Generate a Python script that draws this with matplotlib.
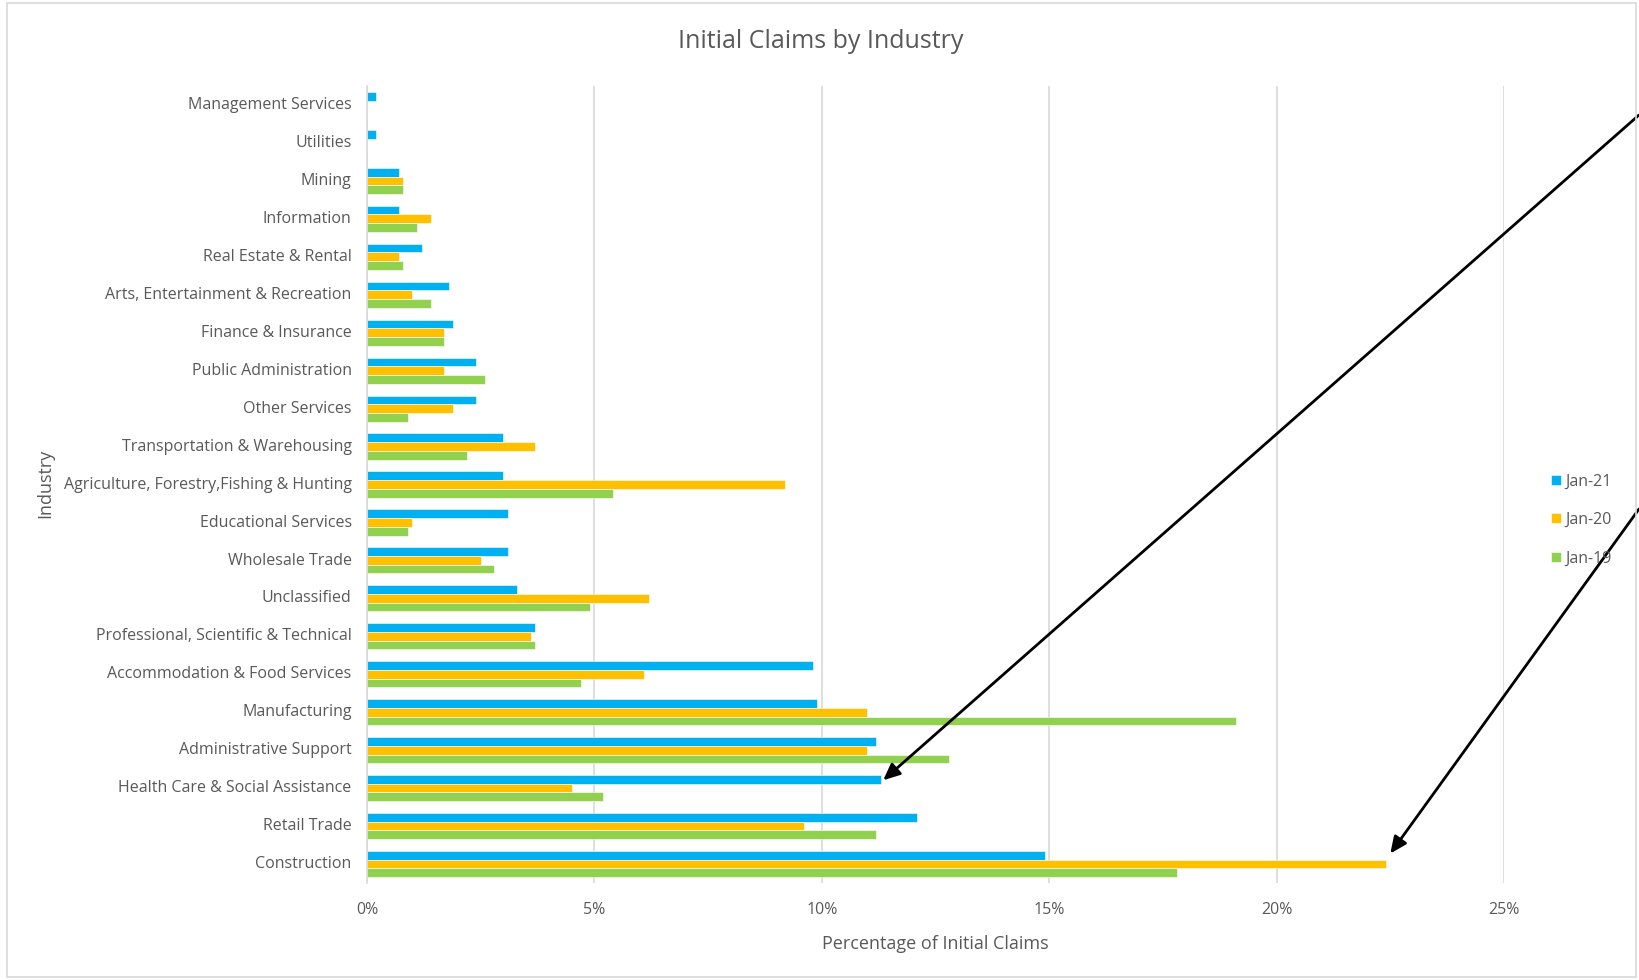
"""
plot.py - initial claims by industry, grouped horizontal bars (Jan-21 / Jan-20 / Jan-19)
"""
import numpy as np
import matplotlib
matplotlib.use("Agg")
import matplotlib.pyplot as plt
from matplotlib.patches import Rectangle

# ----------------------------- data ----------------------------------------
# bottom -> top, as drawn
industries = [
    "Construction", "Retail Trade", "Health Care & Social Assistance",
    "Administrative Support", "Manufacturing", "Accommodation & Food Services",
    "Professional, Scientific & Technical", "Unclassified", "Wholesale Trade",
    "Educational Services", "Agriculture, Forestry,Fishing & Hunting",
    "Transportation & Warehousing", "Other Services", "Public Administration",
    "Finance & Insurance", "Arts, Entertainment & Recreation",
    "Real Estate & Rental", "Information", "Mining", "Utilities",
    "Management Services",
]
jan21 = [14.9, 12.1, 11.3, 11.2, 9.9, 9.8, 3.7, 3.3, 3.1, 3.1, 3.0,
         3.0, 2.4, 2.4, 1.9, 1.8, 1.2, 0.7, 0.7, 0.2, 0.2]
jan20 = [22.4, 9.6, 4.5, 11.0, 11.0, 6.1, 3.6, 6.2, 2.5, 1.0, 9.2,
         3.7, 1.9, 1.7, 1.7, 1.0, 0.7, 1.4, 0.8, 0.0, 0.0]
jan19 = [17.8, 11.2, 5.2, 12.8, 19.1, 4.7, 3.7, 4.9, 2.8, 0.9, 5.4,
         2.2, 0.9, 2.6, 1.7, 1.4, 0.8, 1.1, 0.8, 0.0, 0.0]
series_names = ["Jan-21", "Jan-20", "Jan-19"]
x_ticks = [0, 5, 10, 15, 20, 25]

# ----------------------------- style ---------------------------------------
COLORS = ["#00B0F0", "#FFC000", "#92D050"]
TEXT = "#595959"
GRID = "#D9D9D9"
plt.rcParams["font.family"] = ["Open Sans", "DejaVu Sans"]

W, H = 1639, 980
fig = plt.figure(figsize=(W / 100, H / 100), dpi=100)
ax = fig.add_axes([367 / W, 1 - 883 / H, (1504 - 367) / W, (883 - 86) / H])

y = np.arange(len(industries))
bh = 0.23
for k, (vals, name, col) in enumerate(zip([jan21, jan20, jan19], series_names, COLORS)):
    ax.barh(y + (1 - k) * bh, vals, height=bh, color=col, label=name,
            edgecolor="white", linewidth=0.4)

ax.set_ylim(-0.5, len(industries) - 0.5)
ax.set_xlim(0, 25)
ax.set_xticks(x_ticks)
ax.set_xticklabels([f"{t}%" for t in x_ticks])
ax.set_yticks(y + 0.05)
ax.set_yticklabels(industries)
ax.tick_params(axis="both", length=0, colors=TEXT, labelsize=11.5)
ax.tick_params(axis="x", pad=14)
ax.tick_params(axis="y", pad=11)
ax.xaxis.grid(True, color=GRID, linewidth=1.2)
ax.set_axisbelow(True)
for s in ["top", "right", "bottom"]:
    ax.spines[s].set_visible(False)
ax.spines["left"].set_color(GRID)
ax.spines["left"].set_linewidth(1.2)

ax.set_xlabel("Percentage of Initial Claims", color=TEXT, fontsize=13, labelpad=12)
fig.text(45 / W, 1 - 483 / H, "Industry", rotation=90, color=TEXT, fontsize=13,
         ha="center", va="center")
fig.text(821 / W, 1 - 42 / H, "Initial Claims by Industry", color=TEXT,
         fontsize=18, ha="center", va="center")

leg = ax.legend(loc="center left", bbox_to_anchor=(1543 / W, 1 - 520 / H),
                bbox_transform=fig.transFigure, frameon=False, fontsize=11.5,
                handlelength=0.6, handleheight=0.6, handletextpad=0.3,
                labelspacing=1.4, borderpad=0)
for t in leg.get_texts():
    t.set_color(TEXT)

# chart border
fig.patches.append(Rectangle((7 / W, 3 / H), (1636 - 7) / W, (977 - 3) / H,
                             transform=fig.transFigure, fill=False,
                             edgecolor="#D9D9D9", linewidth=1.2))

# arrows pointing at Jan-21 Health Care and Jan-20 Construction
arrow = dict(arrowstyle="-|>,head_length=1.0,head_width=0.45", color="black",
             linewidth=2, shrinkA=0, shrinkB=0)
ax.annotate("", xy=(jan21[2] + 0.05, y[2] + bh * 0.9), xycoords="data",
            xytext=(1.0, 1 - 115 / H), textcoords="figure fraction",
            arrowprops=arrow, annotation_clip=False)
ax.annotate("", xy=(jan20[0] + 0.1, y[0] + bh * 1.2), xycoords="data",
            xytext=(1.0, 1 - 509 / H), textcoords="figure fraction",
            arrowprops=arrow, annotation_clip=False)

fig.savefig("out.png", dpi=100, facecolor="white")
